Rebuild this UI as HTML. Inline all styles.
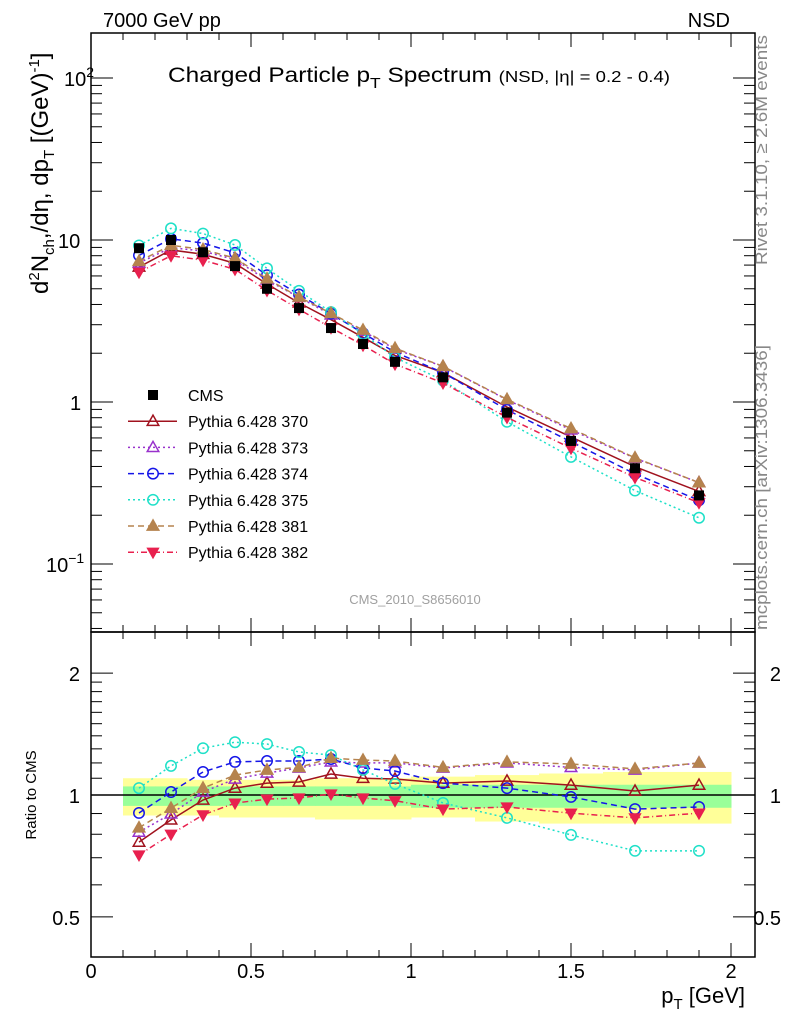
<!DOCTYPE html>
<html><head><meta charset="utf-8"><style>
body{margin:0;background:#fff;}
svg{display:block;font-family:"Liberation Sans",sans-serif;}
</style></head><body>
<svg id="c" width="786" height="1024" viewBox="0 0 786 1024" xmlns="http://www.w3.org/2000/svg"></svg>
<script>
const xs=[0.15,0.25,0.35,0.45,0.55,0.65,0.75,0.85,0.95,1.1,1.3,1.5,1.7,1.9];
const binLo=[0.1,0.2,0.3,0.4,0.5,0.6,0.7,0.8,0.9,1.0,1.2,1.4,1.6,1.8];
const binHi=[0.2,0.3,0.4,0.5,0.6,0.7,0.8,0.9,1.0,1.2,1.4,1.6,1.8,2.0];
const cms=[8.9,10.0,8.4,6.9,5.0,3.8,2.86,2.28,1.77,1.42,0.86,0.575,0.39,0.265];
const yellowUp=[1.10,1.10,1.09,1.09,1.09,1.09,1.10,1.10,1.10,1.11,1.12,1.13,1.14,1.14];
const yellowLo=[0.89,0.89,0.89,0.88,0.88,0.88,0.87,0.87,0.87,0.88,0.86,0.85,0.85,0.85];
const greenUp=[1.05,1.05,1.05,1.05,1.05,1.05,1.05,1.05,1.05,1.06,1.06,1.06,1.06,1.06];
const greenLo=[0.94,0.94,0.94,0.94,0.94,0.94,0.94,0.94,0.94,0.93,0.93,0.93,0.93,0.93];
const r370=[0.765,0.868,0.972,1.04,1.07,1.077,1.127,1.10,1.095,1.07,1.083,1.058,1.023,1.058];
const r373=[0.81,0.898,1.017,1.095,1.133,1.166,1.207,1.2,1.2,1.166,1.2,1.17,1.153,1.2];
const r374=[0.903,1.017,1.14,1.207,1.213,1.213,1.227,1.166,1.146,1.07,1.04,0.989,0.923,0.934];
const r375=[1.04,1.18,1.305,1.35,1.336,1.277,1.255,1.153,1.065,0.956,0.878,0.797,0.728,0.728];
const r381=[0.83,0.928,1.04,1.12,1.153,1.17,1.233,1.22,1.213,1.17,1.207,1.193,1.16,1.2];
const r382=[0.711,0.8,0.893,0.955,0.977,0.983,1.006,0.983,0.968,0.923,0.934,0.902,0.878,0.902];
const series=[
 {name:'Pythia 6.428 370',r:r370,col:'#a0121e',dash:'',mk:'tri',fill:false,key:'370'},
 {name:'Pythia 6.428 373',r:r373,col:'#9932cc',dash:'2,3',mk:'tri',fill:false,key:'373'},
 {name:'Pythia 6.428 374',r:r374,col:'#1515e8',dash:'6,4',mk:'circ',fill:false,key:'374'},
 {name:'Pythia 6.428 375',r:r375,col:'#1ee0c8',dash:'2,3',mk:'circ',fill:false,key:'375'},
 {name:'Pythia 6.428 381',r:r381,col:'#b5834e',dash:'6,4',mk:'tri',fill:true,key:'381'},
 {name:'Pythia 6.428 382',r:r382,col:'#e8204e',dash:'6,3,1,3',mk:'dtri',fill:true,key:'382'}
];
const NS='http://www.w3.org/2000/svg';
const svg=document.getElementById('c');
function el(t,a,p){const e=document.createElementNS(NS,t);for(const k in a)e.setAttribute(k,a[k]);(p||svg).appendChild(e);return e;}
const L=91,R=755,T=33,M=632,B=957;
const X=v=>91+v*320;
const Y=v=>402-162*Math.log10(v);
const YR=v=>795-405*Math.log10(v);
const gb=el('g',{});
binLo.forEach((lo,i)=>{
 const a=el('rect',{x:X(lo),y:YR(yellowUp[i]),width:X(binHi[i])-X(lo)+0.5,height:YR(yellowLo[i])-YR(yellowUp[i]),fill:'#ffff99'},gb);
 
});
binLo.forEach((lo,i)=>{
 const a=el('rect',{x:X(lo),y:YR(greenUp[i]),width:X(binHi[i])-X(lo)+0.5,height:YR(greenLo[i])-YR(greenUp[i]),fill:'#99ff99'},gb);
 
});
const one=el('line',{x1:L,x2:R,y1:YR(1),y2:YR(1),stroke:'#000','stroke-width':1.5});

function marker(g,mk,x,y,col,fill,s){
 s=s||5.5;
 if(mk==='tri')el('polygon',{points:`${x},${y-s*1.1} ${x-s*1.05},${y+s*0.75} ${x+s*1.05},${y+s*0.75}`,fill:fill?col:'#fff','fill-opacity':fill?1:0,stroke:col,'stroke-width':1.5},g);
 else if(mk==='dtri')el('polygon',{points:`${x},${y+s*1.1} ${x-s*1.05},${y-s*0.75} ${x+s*1.05},${y-s*0.75}`,fill:col,stroke:col,'stroke-width':1},g);
 else if(mk==='circ')el('circle',{cx:x,cy:y,r:s*0.95,fill:'none',stroke:col,'stroke-width':1.5},g);
 else if(mk==='sq')el('rect',{x:x-5,y:y-5,width:10,height:10,fill:col},g);
}
series.forEach(s=>{
 const g=el('g',{});
 const top=xs.map((x,i)=>[X(x),Y(cms[i]*s.r[i])]);
 const bot=xs.map((x,i)=>[X(x),YR(s.r[i])]);
 [top,bot].forEach(pts=>{
  const pl=el('polyline',{points:pts.map(p=>p.join(',')).join(' '),fill:'none',stroke:s.col,'stroke-width':1.5,'stroke-dasharray':s.dash},g);
  
  pts.forEach(p=>marker(g,s.mk,p[0],p[1],s.col,s.fill));
 });
});
const gd=el('g',{});
xs.forEach((x,i)=>marker(gd,'sq',X(x),Y(cms[i]),'#000',true));
const f1=el('rect',{x:L,y:T,width:R-L,height:M-T,fill:'none',stroke:'#000','stroke-width':1.5});

const f2=el('rect',{x:L,y:M,width:R-L,height:B-M,fill:'none',stroke:'#000','stroke-width':1.5});

const tk=el('g',{stroke:'#000','stroke-width':1});
for(let k=0;k<=20;k++){const v=k/10,x=X(v);if(x>R)continue;const len=(k%5===0)?14:7;
 [[T,1],[M,-1],[M,1],[B,-1]].forEach(([y,d])=>el('line',{x1:x,x2:x,y1:y,y2:y+d*len},tk));}
for(let e=-2;e<=2;e++)for(let m=1;m<10;m++){const v=m*Math.pow(10,e),y=Y(v);if(y<T||y>M)continue;const len=m===1?22:11;
 el('line',{x1:L,x2:L+len,y1:y,y2:y},tk);el('line',{x1:R,x2:R-len,y1:y,y2:y},tk);}
[0.5,0.6,0.7,0.8,0.9,1,2].forEach(v=>{const y=YR(v);const len=(v===0.5||v===1||v===2)?22:11;
 el('line',{x1:L,x2:L+len,y1:y,y2:y},tk);el('line',{x1:R,x2:R-len,y1:y,y2:y},tk);});
[1.1,1.2,1.3,1.4,1.5,1.6,1.7,1.8,1.9].forEach(v=>{const y=YR(v);el('line',{x1:L,x2:L+11,y1:y,y2:y},tk);el('line',{x1:R,x2:R-11,y1:y,y2:y},tk);});
function txt(s,a,name){const t=el('text',a);t.innerHTML=s;return t;}
const xt=['0','0.5','1','1.5','2'];
xt.forEach((s,i)=>txt(s,{x:X(i*0.5),y:978,'font-size':20,'text-anchor':'middle'},'x-tick-label'));
txt('10<tspan dy="-9" font-size="14">2</tspan>',{x:64,y:Y(100)+8,'font-size':20},'y-tick-label');
txt('10',{x:58,y:Y(10)+8,'font-size':20},'y-tick-label');
txt('1',{x:70,y:Y(1)+8,'font-size':20},'y-tick-label');
txt('10<tspan dy="-9" font-size="14">−1</tspan>',{x:46,y:Y(0.1)+8,'font-size':20},'y-tick-label');
[['2',2],['1',1],['0.5',0.5]].forEach(([s,v])=>{
 txt(s,{x:80,y:YR(v)+8,'font-size':20,'text-anchor':'end'},'ratio-tick-label');
 txt(s,{x:781,y:YR(v)+8,'font-size':20,'text-anchor':'end'},'ratio-tick-label-right');});
txt('7000 GeV pp',{x:103,y:27,'font-size':20},'energy-label');
txt('NSD',{x:730,y:27,'font-size':20,'text-anchor':'end'},'process-label');
txt('Charged Particle p<tspan dy="6" font-size="15">T</tspan><tspan dy="-6"> Spectrum </tspan><tspan font-size="16">(NSD, |η| = 0.2 - 0.4)</tspan>',{x:168,y:82,'font-size':21,textLength:502,lengthAdjust:'spacingAndGlyphs'},'plot-title');
txt('d<tspan dy="-9" font-size="15">2</tspan><tspan dy="9">N</tspan><tspan dy="6" font-size="15">ch</tspan><tspan dy="-6">,/dη, dp</tspan><tspan dy="6" font-size="15">T</tspan><tspan dy="-6"> [(GeV)</tspan><tspan dy="-9" font-size="15">-1</tspan><tspan dy="9">]</tspan>',{x:0,y:0,'font-size':24,transform:'translate(48,294) rotate(-90)'},'y-axis-title');
txt('Ratio to CMS',{x:0,y:0,'font-size':15,'text-anchor':'middle',transform:'translate(36,795) rotate(-90)'},'ratio-axis-title');
txt('p<tspan dy="6" font-size="15">T</tspan><tspan dy="-6"> [GeV]</tspan>',{x:745,y:1003,'font-size':22,'text-anchor':'end'},'x-axis-title');
txt('CMS_2010_S8656010',{x:415,y:604,'font-size':13,fill:'#a0a0a0','text-anchor':'middle'},'analysis-id');
txt('Rivet 3.1.10, ≥ 2.6M events',{x:0,y:0,'font-size':17,fill:'#888','text-anchor':'end',textLength:230,lengthAdjust:'spacingAndGlyphs',transform:'translate(767,35) rotate(-90)'},'rivet-label');
txt('mcplots.cern.ch [arXiv:1306.3436]',{x:0,y:0,'font-size':17,fill:'#888','text-anchor':'end',textLength:285,lengthAdjust:'spacingAndGlyphs',transform:'translate(767,345) rotate(-90)'},'mcplots-label');
const lg=el('g',{});
const ly0=395,ldy=26.2;
const le0=el('g',{},lg);
marker(le0,'sq',153,ly0,'#000',true);
txt('CMS',{x:188,y:ly0+6,'font-size':16},'legend-label');
series.forEach((s,i)=>{const y=ly0+ldy*(i+1);
 const g=el('g',{},lg);
 el('line',{x1:128,x2:177,y1:y,y2:y,stroke:s.col,'stroke-width':1.5,'stroke-dasharray':s.dash},g);
 marker(g,s.mk,153,y,s.col,s.fill);
 txt(s.name,{x:188,y:y+6,'font-size':16},'legend-label');
});
</script>
</body></html>
